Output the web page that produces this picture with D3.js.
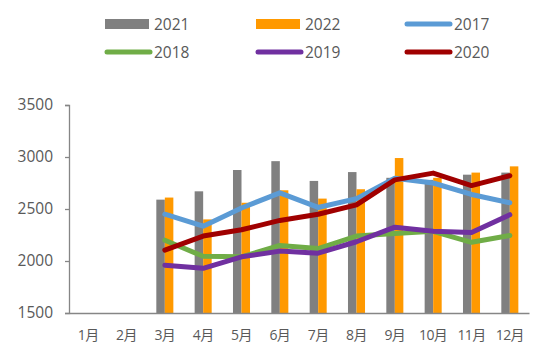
<!DOCTYPE html>
<html><head><meta charset="utf-8">
<script src="https://cdn.jsdelivr.net/npm/d3@7"></script>
<style>body{margin:0;background:#fff}svg{display:block}text{font-family:"Open Sans","Noto Sans CJK SC",sans-serif;fill:#595959}</style>
</head><body><svg id="c" width="550" height="357"></svg>
<script>
const months = ["1月","2月","3月","4月","5月","6月","7月","8月","9月","10月","11月","12月"];
const yTicks = [1500,2000,2500,3000,3500];
const bars2021 = [null,null,2590,2670,2875,2960,2770,2855,2800,2780,2830,2850];
const bars2022 = [null,null,2610,2400,2560,2680,2600,2690,2990,2800,2850,2910];
const line2017 = [null,null,2450,2335,2510,2655,2515,2600,2795,2750,2640,2560];
const line2018 = [null,null,2200,2045,2040,2150,2120,2240,2265,2285,2180,2245];
const line2019 = [null,null,1960,1930,2040,2095,2075,2185,2325,2285,2275,2445];
const line2020 = [null,null,2105,2240,2300,2390,2450,2540,2780,2845,2725,2820];

const svg = d3.select("#c");
const L = 69, R = 529, T = 105, B = 313;
const x = d3.scaleBand().domain(months).range([L, R]);
const y = d3.scaleLinear().domain([1500, 3500]).range([B, T]);
const bw = x.bandwidth() / 4.5;

const barSeries = [{name:"2021", data:bars2021, color:"#808080", off:-1},{name:"2022", data:bars2022, color:"#FF9900", off:0}];
const lineSeries = [
  {name:"2017", data:line2017, color:"#5B9BD5"},
  {name:"2018", data:line2018, color:"#70AD47"},
  {name:"2019", data:line2019, color:"#7030A0"},
  {name:"2020", data:line2020, color:"#A00000"}];

// y axis
const ya = svg.append("g").attr("transform",`translate(${L},0)`)
  .call(d3.axisLeft(y).tickValues(yTicks).tickSize(4).tickPadding(12).tickFormat(d3.format("d")));
ya.select(".domain").attr("stroke","#868686").attr("stroke-width",1.3);
ya.selectAll(".tick line").attr("stroke","#868686").attr("stroke-width",1.3);
ya.selectAll("text").style("font-size","15.5px").attr("fill","#595959");

barSeries.forEach(s => {
  svg.append("g").selectAll("rect").data(months.map((m,i)=>({m, v:s.data[i]})).filter(d=>d.v!=null))
    .join("rect")
    .attr("x", d => x(d.m) + x.bandwidth()/2 + s.off*bw)
    .attr("width", bw)
    .attr("y", d => y(d.v))
    .attr("height", d => B - y(d.v))
    .attr("fill", s.color);
});

// x axis
const xa = svg.append("g").attr("transform",`translate(0,${B})`)
  .call(d3.axisBottom(x).tickSize(0).tickPadding(17));
xa.select(".domain").attr("stroke","#868686").attr("stroke-width",1.3);
xa.selectAll("text").style("font-size","14px").style("letter-spacing","-0.6px").attr("fill","#595959");

const lineGen = d3.line().defined(d=>d.v!=null).x(d=>x(d.m)+x.bandwidth()/2).y(d=>y(d.v));
lineSeries.forEach(s => {
  svg.append("path").datum(months.map((m,i)=>({m, v:s.data[i]})))
    .attr("d", lineGen).attr("fill","none").attr("stroke", s.color)
    .attr("stroke-width",5).attr("stroke-linejoin","round").attr("stroke-linecap","round");
});

// legend
const legendItems = [
  {s:barSeries[0], type:"bar", x:105, y:24},
  {s:barSeries[1], type:"bar", x:256, y:24},
  {s:lineSeries[0], type:"line", x:405, y:24},
  {s:lineSeries[1], type:"line", x:105, y:52},
  {s:lineSeries[2], type:"line", x:256, y:52},
  {s:lineSeries[3], type:"line", x:405, y:52}];
legendItems.forEach(it => {
  const g = svg.append("g");
  if (it.type === "bar") {
    g.append("rect").attr("x", it.x).attr("y", it.y-5).attr("width",44).attr("height",10).attr("fill", it.s.color);
  } else {
    g.append("line").attr("x1", it.x+2).attr("x2", it.x+45).attr("y1", it.y).attr("y2", it.y)
      .attr("stroke", it.s.color).attr("stroke-width",5).attr("stroke-linecap","round");
  }
  g.append("text").attr("x", it.x+49).attr("y", it.y).attr("dy","0.36em").style("font-size","15.5px").text(it.s.name);
});
</script></body></html>
